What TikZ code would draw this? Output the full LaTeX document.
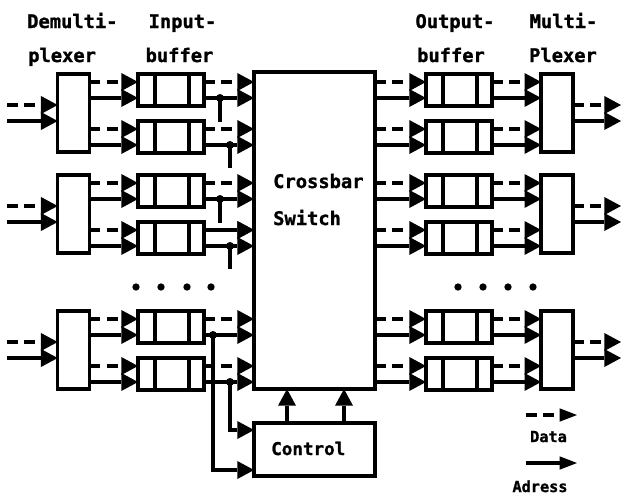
\documentclass[tikz,border=0pt]{standalone}
\usepackage{fontspec}
\setmonofont{DejaVu Sans Mono}
\newfontfamily\hdfont[FakeBold=1.2]{DejaVu Sans Mono Bold}
\usetikzlibrary{positioning,arrows.meta,calc}

\tikzset{
  box/.style={draw, line width=3pt, fill=white, inner sep=0pt, outer sep=0pt},
  muxbox/.style={box, minimum width=0.95cm, minimum height=2.34cm},
  bufbox/.style={box, minimum width=1.98cm, minimum height=0.96cm,
    path picture={
      \draw[line width=3pt] ([xshift=0.51cm]path picture bounding box.north west) -- ([xshift=0.51cm]path picture bounding box.south west);
      \draw[line width=3pt] ([xshift=-0.45cm]path picture bounding box.north east) -- ([xshift=-0.45cm]path picture bounding box.south east);
    }},
  wire/.style={line width=3pt},
  data/.style={wire, dash pattern=on 0.33cm off 0.19cm, -{Triangle[length=0.5cm,width=0.54cm,line width=0pt]}},
  addr/.style={wire, -{Triangle[length=0.5cm,width=0.54cm,line width=0pt]}},
  keytip/.style={-{Triangle[length=0.52cm,width=0.4cm,line width=0pt]}},
  lbl/.style={font=\hdfont\fontsize{16}{19}\selectfont, inner sep=0pt, anchor=base west},
}

\begin{document}
\begin{tikzpicture}[x=0.03cm, y=-0.03cm]
  \fill[white] (0,0) rectangle (621,496);
  \useasboundingbox (0,0) rectangle (621,496);

  % Crossbar switch and its control unit
  \node[box, minimum width=3.63cm, minimum height=9.51cm] (xbar) at (314.5,230.5) {};
  \node[box, minimum width=3.63cm, minimum height=1.59cm, below=1.02cm of xbar] (ctrl) {};
  \node[lbl] (xbarA) at (273,188) {Crossbar};
  \node[lbl] (xbarB) at (273,225) {Switch};
  \node[lbl, font=\hdfont\fontsize{15}{18}\selectfont] (ctrlT) at (271,455) {Control};
  \draw[addr] ($(ctrl.north)+(-27.5,0)$) -- ($(xbar.south)+(-27.5,0)$);
  \draw[addr] ($(ctrl.north)+(29.5,0)$) -- ($(xbar.south)+(29.5,0)$);

  % Three port groups: demultiplexer, buffers, multiplexer
  \foreach \grp/\off in {1/0,2/101,3/237}{
    \node[muxbox] (dmx\grp) at (73.5,113+\off) {};
    \node[bufbox] (inA\grp) at (171,90+\off) {};
    \node[bufbox] (inB\grp) at (171,137+\off) {};
    \node[bufbox] (outA\grp) at (459,90+\off) {};
    \node[bufbox] (outB\grp) at (459,137+\off) {};
    \node[muxbox] (mux\grp) at (557,113+\off) {};
    \coordinate (src\grp) at (7,113+\off);
    \coordinate (dst\grp) at (621,113+\off);

    % port input and output
    \draw[data] ($(src\grp)+(0,-8)$) -- ($(dmx\grp.west)+(0,-8)$);
    \draw[addr] ($(src\grp)+(0,8)$) -- ($(dmx\grp.west)+(0,8)$);
    \draw[data] ($(mux\grp.east)+(0,-8)$) -- ($(dst\grp)+(0,-8)$);
    \draw[addr] ($(mux\grp.east)+(0,8)$) -- ($(dst\grp)+(0,8)$);

    % lines through the buffers
    \foreach \row in {A,B}{
      \draw[data] ($(dmx\grp.east |- in\row\grp.west)+(0,-8)$) -- ($(in\row\grp.west)+(0,-8)$);
      \draw[addr] ($(dmx\grp.east |- in\row\grp.west)+(0,8)$) -- ($(in\row\grp.west)+(0,8)$);
      \draw[data] ($(in\row\grp.east)+(0,-8)$) -- ($(xbar.west |- in\row\grp.east)+(0,-8)$);
      \draw[addr] ($(in\row\grp.east)+(0,8)$) -- ($(xbar.west |- in\row\grp.east)+(0,8)$);
      \draw[data] ($(xbar.east |- out\row\grp.west)+(0,-8)$) -- ($(out\row\grp.west)+(0,-8)$);
      \draw[addr] ($(xbar.east |- out\row\grp.west)+(0,8)$) -- ($(out\row\grp.west)+(0,8)$);
      \draw[data] ($(out\row\grp.east)+(0,-8)$) -- ($(mux\grp.west |- out\row\grp.east)+(0,-8)$);
      \draw[addr] ($(out\row\grp.east)+(0,8)$) -- ($(mux\grp.west |- out\row\grp.east)+(0,8)$);
    }
  }
  \draw[addr] ($(inB2.east)+(0,-8)$) -- ($(xbar.west |- inB2.east)+(0,-8)$);

  % Address taps
  \foreach \grp in {1,2}{
    \fill ($(inA\grp.east)+(16,8)$) circle (0.12cm);
    \draw[wire] ($(inA\grp.east)+(16,8)$) -- ++(0,24);
    \fill ($(inB\grp.east)+(26,8)$) circle (0.12cm);
    \draw[wire] ($(inB\grp.east)+(26,8)$) -- ++(0,23);
  }
  \fill ($(inA3.east)+(9,8)$) circle (0.12cm);
  \fill ($(inB3.east)+(26,8)$) circle (0.12cm);
  \draw[addr] ($(inA3.east)+(9,8)$) |- ($(ctrl.west)+(0,20.5)$);
  \draw[addr] ($(inB3.east)+(26,8)$) |- ($(ctrl.west)+(0,-19.5)$);

  % dots between the groups
  \foreach \x in {136,161,187,211,458,483,508,533}
    \fill (\x,287) circle (0.11cm);

  % Headings
  \node[lbl] (hdDmxA) at (27,28) {Demulti-};
  \node[lbl] (hdDmxB) at (28,62) {plexer};
  \node[lbl, anchor=base] (hdInA) at (182.5,28) {Input-};
  \node[lbl, anchor=base] (hdInB) at (179.5,62) {buffer};
  \node[lbl, anchor=base] (hdOutA) at (455,28) {Output-};
  \node[lbl, anchor=base] (hdOutB) at (451,62) {buffer};
  \node[lbl, anchor=base] (hdMuxA) at (563.5,28) {Multi-};
  \node[lbl, anchor=base] (hdMuxB) at (563,62) {Plexer};

  % Legend
  \coordinate (keyD) at (526,415);
  \coordinate (keyDend) at (577,415);
  \coordinate (keyA) at (526,463);
  \coordinate (keyAend) at (577,463);
  \draw[data, keytip] (keyD) -- (keyDend);
  \draw[addr, keytip] (keyA) -- (keyAend);
  \node[lbl, anchor=base, font=\hdfont\fontsize{13}{16}\selectfont] (keyDtxt) at (548.5,442) {Data};
  \node[lbl, anchor=base, font=\hdfont\fontsize{13}{16}\selectfont] (keyAtxt) at (540,492) {Adress};
\end{tikzpicture}
\end{document}
